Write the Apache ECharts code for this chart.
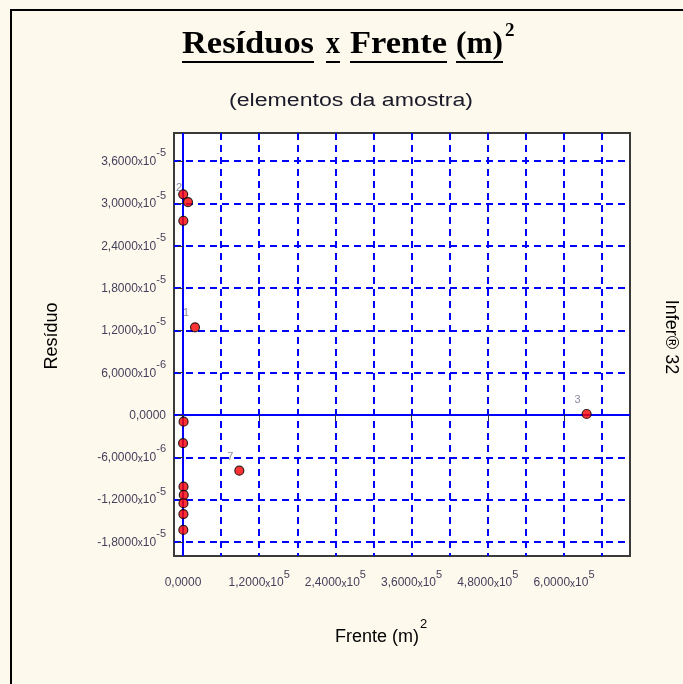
<!DOCTYPE html>
<html>
<head>
<meta charset="utf-8">
<script src="https://cdn.jsdelivr.net/npm/echarts@6/dist/echarts.min.js"></script>
<style>
  html, body { margin: 0; padding: 0; background: #fdf9ed; }
  #chart { width: 683px; height: 684px; }
</style>
</head>
<body>
<div id="chart"></div>
<script>
// Sample elements: frente squared (m²) and the model residual for each one
const frente  = [300, 7900, 500, 18900, 635700, 88700, 900, 100, 800, 1200, 700, 600, 500];
const residuo = [3.13e-5, 3.02e-5, 2.755e-5, 1.243e-5, 1.4e-7, -7.9e-6, -9.5e-7, -4.0e-6,
                 -1.016e-5, -1.134e-5, -1.252e-5, -1.405e-5, -1.63e-5];
const rotulos = ['', '2', '', '1', '3', '7', '', '', '', '', '', '', ''];

// Axis ranges, labelled ticks and dashed grid positions
const xRange = [-14170, 704000];
const yRange = [-2.0e-5, 4.0e-5];
const xTicks = [0, 120000, 240000, 360000, 480000, 600000];
const xGrid  = [60000, 120000, 180000, 240000, 300000, 360000, 420000, 480000, 540000, 600000, 660000];
const yTicks = [-1.8e-5, -1.2e-5, -6.0e-6, 0, 6.0e-6, 1.2e-5, 1.8e-5, 2.4e-5, 3.0e-5, 3.6e-5];
const yGrid  = [-1.8e-5, -1.2e-5, -6.0e-6, 6.0e-6, 1.2e-5, 1.8e-5, 2.4e-5, 3.0e-5, 3.6e-5];

const TICK_COLOR = '#443f5a';
const GRID_BLUE = '#0000ff';

// "3,6000x10^-5" style labels with a raised exponent
function sciLabel(v) {
  if (v === 0) return '{m|0,0000}';
  const e = Math.floor(Math.log10(Math.abs(v)) + 1e-9);
  const m = v / Math.pow(10, e);
  return '{m|' + m.toFixed(4).replace('.', ',') + '}{x|x}{m|10}{e|' + e + '}';
}
const sciRich = {
  m: { fontFamily: 'Arial', fontSize: 12, color: TICK_COLOR, verticalAlign: 'bottom', lineHeight: 13 },
  x: { fontFamily: 'Arial', fontSize: 10, color: TICK_COLOR, verticalAlign: 'bottom', lineHeight: 12 },
  e: { fontFamily: 'Arial', fontSize: 11, color: TICK_COLOR, verticalAlign: 'bottom', lineHeight: 11, padding: [0, 0, 9, 0] }
};

const points = frente.map((x, i) => ({ value: [x, residuo[i]], name: rotulos[i] }));

const measure = document.createElement('canvas').getContext('2d');
function textWidth(str, font) { measure.font = font; return measure.measureText(str).width; }

// Underlined serif title, one word at a time: [word, left edge, drawn width]
const titleFont = 'bold 32px "Liberation Serif"';
const titleWords = [['Resíduos', 182, 132], ['x', 326, 14], ['Frente', 350, 97], ['(m)', 456, 47]];
const titleEls = [];
titleWords.forEach(([w, x, wd]) => {
  const sx = wd / textWidth(w, titleFont);
  titleEls.push({ type: 'text', x: x, y: 45, scaleX: sx,
    style: { text: w, x: 0, y: 0, font: titleFont, fill: '#000', verticalAlign: 'middle' } });
  titleEls.push({ type: 'rect', shape: { x: x, y: 61, width: wd, height: 2 }, style: { fill: '#000' } });
});
titleEls.push({ type: 'text', style: { text: '2', x: 505, y: 31, font: 'bold 19px "Liberation Serif"', fill: '#000', verticalAlign: 'middle' } });

const subFont = '18px "Liberation Sans"';
const subText = '(elementos da amostra)';
const subScale = 244 / textWidth(subText, subFont);

const option = {
  backgroundColor: '#fdf9ed',
  animation: false,
  grid: {
    left: 174, right: 53, top: 133, bottom: 128,
    show: true, backgroundColor: '#ffffff', borderColor: '#3a3a3a', borderWidth: 2
  },
  xAxis: [
    {
      type: 'value', min: xRange[0], max: xRange[1],
      axisLine: { show: false },
      axisTick: { show: true, inside: false, length: 6, customValues: xTicks, lineStyle: { color: '#333', width: 1 } },
      axisLabel: { customValues: xTicks, margin: 20, formatter: sciLabel, rich: sciRich },
      splitLine: { show: false }
    },
    {
      type: 'value', min: xRange[0], max: xRange[1], position: 'bottom',
      axisLine: { show: false }, axisLabel: { show: false },
      axisTick: { show: false, customValues: xGrid },
      splitLine: { show: true, lineStyle: { color: GRID_BLUE, width: 2, type: [7, 5] } }
    },
    {
      type: 'value', min: xRange[0], max: xRange[1], position: 'bottom',
      axisLine: { show: false }, axisLabel: { show: false },
      axisTick: { show: false, customValues: [0] },
      splitLine: { show: true, lineStyle: { color: GRID_BLUE, width: 2, type: 'solid' } }
    }
  ],
  yAxis: [
    {
      type: 'value', min: yRange[0], max: yRange[1],
      axisLine: { show: false },
      axisTick: { show: true, inside: false, length: 5, customValues: yTicks, lineStyle: { color: '#333', width: 1 } },
      axisLabel: { customValues: yTicks, margin: 8, formatter: sciLabel, rich: sciRich },
      splitLine: { show: false }
    },
    {
      type: 'value', min: yRange[0], max: yRange[1], position: 'left',
      axisLine: { show: false }, axisLabel: { show: false },
      axisTick: { show: false, customValues: yGrid },
      splitLine: { show: true, lineStyle: { color: GRID_BLUE, width: 2, type: [7, 5] } }
    },
    {
      type: 'value', min: yRange[0], max: yRange[1], position: 'left',
      axisLine: { show: false }, axisLabel: { show: false },
      axisTick: { show: false, customValues: [0] },
      splitLine: { show: true, lineStyle: { color: GRID_BLUE, width: 2, type: 'solid' } }
    }
  ],
  series: [{
    type: 'scatter',
    xAxisIndex: 0, yAxisIndex: 0,
    symbol: 'circle', symbolSize: 9,
    itemStyle: { color: '#ff0000', borderColor: '#000', borderWidth: 1.2 },
    label: {
      show: true, position: 'inside', offset: [-9, -14],
      formatter: p => p.name, fontFamily: 'Arial', fontSize: 11, color: '#6b6b88'
    },
    data: points,
    z: 5
  }],
  graphic: [
    { type: 'rect', z: -10, shape: { x: 11, y: 10, width: 700, height: 700 }, style: { fill: '#fdf9ed', stroke: '#000', lineWidth: 2 } },
    { type: 'group', children: titleEls },
    { type: 'text', x: 351, y: 101, scaleX: subScale,
      style: { text: subText, x: 0, y: 0, font: subFont, fill: '#1a1a2a', align: 'center', verticalAlign: 'middle' } },
    { type: 'text', rotation: Math.PI / 2, x: 52, y: 336, style: { text: 'Resíduo', x: 0, y: 0, font: '18px "Liberation Sans"', fill: '#000', align: 'center', verticalAlign: 'middle' } },
    { type: 'text', rotation: -Math.PI / 2, x: 671, y: 337, style: { text: 'Infer® 32', x: 0, y: 0, font: '18px "Liberation Sans"', fill: '#000', align: 'center', verticalAlign: 'middle' } },
    { type: 'text', style: { text: 'Frente (m)', x: 335, y: 637, font: '18px "Liberation Sans"', fill: '#000', verticalAlign: 'middle' } },
    { type: 'text', style: { text: '2', x: 420, y: 624, font: '13px "Liberation Sans"', fill: '#000', verticalAlign: 'middle' } }
  ]
};

const chart = echarts.init(document.getElementById('chart'));
chart.setOption(option);
</script>
</body>
</html>
